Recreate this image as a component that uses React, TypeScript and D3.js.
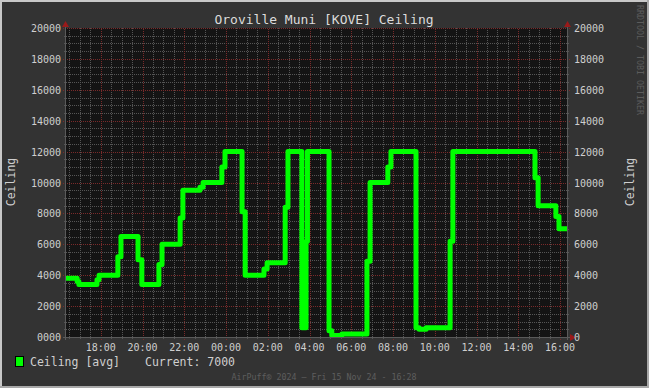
import React from "react";
import * as d3 from "d3";

const titleText = "Oroville Muni [KOVE] Ceiling";
const seriesName = "Ceiling [avg]";
const currentText = "Current: 7000";
const footerText = "AirPuff\u00AE 2024 \u2014 Fri 15 Nov 24 - 16:28";
const sideText = "RRDTOOL / TOBI OETIKER";
const axisLabel = "Ceiling";

// change points (local clock time) and ceiling values (ft)
const times = ["16:20","16:52","16:57","17:49","17:55","18:49","18:58","19:47","19:58","20:47","20:56","21:48","21:56","22:45","22:54","23:48","23:57","00:46","00:55","01:49","01:58","02:50","02:58","03:38","03:50","03:54","04:56","05:04","05:33","06:45","06:54","07:45","07:54","09:06","09:15","09:35","10:44","10:52","14:48","14:57","15:48","15:57"];
const values = [3800,3600,3400,3700,4000,5200,6500,5000,3400,4700,6000,7700,9500,9700,10000,11000,12000,8100,4000,4400,4800,8400,12000,600,6200,12000,400,100,200,4900,10000,11000,12000,600,500,600,6200,12000,10300,8500,7800,7000];

const yTickValues = [0, 2000, 4000, 6000, 8000, 10000, 12000, 14000, 16000, 18000, 20000];
const leftTickLabels = ["0000", "2000", "4000", "6000", "8000", "10000", "12000", "14000", "16000", "18000", "20000"];
const rightTickLabels = ["0", "2000", "4000", "6000", "8000", "10000", "12000", "14000", "16000", "18000", "20000"];

const W = 649, H = 388;
const X0 = 66, X1 = 567, Y0 = 337, Y1 = 28;
const FONT = "'DejaVu Sans Mono', monospace";

const startDate = new Date(2024, 10, 14, 16, 20);
const endDate = new Date(2024, 10, 15, 16, 20);

function toDate(s: string): Date {
  const [h, m] = s.split(":").map(Number);
  const onFirstDay = h * 60 + m >= 16 * 60 + 20;
  return new Date(2024, 10, onFirstDay ? 14 : 15, h, m);
}

export default function App() {
  const x = d3.scaleTime().domain([startDate, endDate]).range([X0, X1]);
  const y = d3.scaleLinear().domain([0, 20000]).range([Y0, Y1]);

  const pts: [Date, number][] = times.map((t, i) => [toDate(t), values[i]]);
  pts.push([endDate, values[values.length - 1]]);
  const line = d3
    .line<[Date, number]>()
    .x((d) => x(d[0]))
    .y((d) => y(d[1]))
    .curve(d3.curveStepAfter);

  const minorX = d3.timeMinute.every(30)!.range(startDate, endDate).filter((d) => d.getMinutes() !== 0 || d.getHours() % 2 !== 0);
  const majorX = d3.timeHour.every(2)!.range(startDate, endDate);
  const minorY = d3.range(0, 20001, 500).filter((v) => v % 2000 !== 0);
  const majorY = yTickValues;

  const minorCol = "#555555";
  const majorCol = "#7a2a2a";
  const textCol = "#cfcfcf";
  const r = (v: number) => Math.round(v) + 0.5;

  return (
    <svg
      width={W}
      height={H}
      style={{ position: "absolute", left: 0, top: 0, display: "block" }}
      fontFamily={FONT}
    >
      <rect x={0} y={0} width={W} height={H} fill="#333333" />
      {/* frame shading */}
      <rect x={0} y={0} width={W} height={2} fill="#c8c8c8" />
      <rect x={0} y={0} width={2} height={H} fill="#c8c8c8" />
      <rect x={0} y={H - 2} width={W} height={2} fill="#a8a8a8" />
      <rect x={W - 2} y={0} width={2} height={H} fill="#a8a8a8" />

      <rect x={X0} y={Y1} width={X1 - X0} height={Y0 - Y1} fill="#141414" />

      {/* minor grid */}
      <g stroke={minorCol} strokeWidth={1} strokeDasharray="1,1" shapeRendering="crispEdges">
        {minorX.map((d, i) => (
          <line key={"mx" + i} x1={r(x(d))} x2={r(x(d))} y1={Y0 + 2} y2={Y1} />
        ))}
        {minorY.map((v, i) => (
          <line key={"my" + i} x1={X0 - 2} x2={X1 + 2} y1={r(y(v))} y2={r(y(v))} />
        ))}
      </g>
      {/* major grid */}
      <g stroke={majorCol} strokeWidth={1} strokeDasharray="1,1" shapeRendering="crispEdges">
        {majorX.map((d, i) => (
          <line key={"Mx" + i} x1={r(x(d))} x2={r(x(d))} y1={Y0 + 3} y2={Y1} />
        ))}
        {majorY.map((v, i) => (
          <line key={"My" + i} x1={X0 - 3} x2={X1 + 3} y1={r(y(v))} y2={r(y(v))} />
        ))}
      </g>

      {/* series */}
      <path
        d={line(pts) || ""}
        fill="none"
        stroke="#00ff00"
        strokeWidth={5}
        strokeLinejoin="round"
        strokeLinecap="butt"
      />

      {/* axes */}
      <g stroke="#5a5a5a" strokeWidth={1} shapeRendering="crispEdges">
        <line x1={X0 - 0.5} x2={X0 - 0.5} y1={Y0 + 3} y2={Y1 - 3} />
        <line x1={X1 + 0.5} x2={X1 + 0.5} y1={Y0 + 3} y2={Y1 - 3} />
        <line x1={X0 - 3} x2={X1 + 4} y1={Y0 + 0.5} y2={Y0 + 0.5} />
      </g>
      <g fill="#9a1a1a">
        <path d={`M${X0 - 4},${Y1 - 1} L${X0 + 3},${Y1 - 1} L${X0 - 0.5},${Y1 - 7} Z`} />
        <path d={`M${X1 - 3},${Y1 - 1} L${X1 + 4},${Y1 - 1} L${X1 + 0.5},${Y1 - 7} Z`} />
        <path d={`M${X1 + 3},${Y0 - 3} L${X1 + 3},${Y0 + 4} L${X1 + 9},${Y0 + 0.5} Z`} />
      </g>

      {/* title */}
      <text x={324} y={24} textAnchor="middle" fontSize={13} fill="#dcdcdc">
        {titleText}
      </text>

      {/* y tick labels */}
      <g fontSize={10} fill={textCol}>
        {yTickValues.map((v, i) => (
          <text key={"l" + i} x={61} y={y(v) + 4} textAnchor="end">
            {leftTickLabels[i]}
          </text>
        ))}
        {yTickValues.map((v, i) => (
          <text key={"r" + i} x={574} y={y(v) + 4} textAnchor="start">
            {rightTickLabels[i]}
          </text>
        ))}
        {majorX.map((d, i) => (
          <text key={"t" + i} x={x(d)} y={351} textAnchor="middle">
            {d3.timeFormat("%H:%M")(d)}
          </text>
        ))}
      </g>

      {/* axis titles */}
      <text
        transform="translate(15,182) rotate(-90)"
        textAnchor="middle"
        fontSize={11.5}
        fill={textCol}
      >
        {axisLabel}
      </text>
      <text
        transform="translate(634,182) rotate(-90)"
        textAnchor="middle"
        fontSize={11.5}
        fill={textCol}
      >
        {axisLabel}
      </text>

      {/* side credit */}
      <text
        transform="translate(637,5) rotate(90)"
        textAnchor="start"
        fontSize={8.3}
        fill="#5c5c5c"
      >
        {sideText}
      </text>

      {/* legend */}
      <rect x={15.5} y={356.5} width={8} height={10} fill="#00ff00" stroke="#000" strokeWidth={1} />
      <text x={30} y={366} fontSize={11.5} fill={textCol}>
        {seriesName}
      </text>
      <text x={145} y={366} fontSize={11.5} fill={textCol}>
        {currentText}
      </text>

      <text x={324} y={380} textAnchor="middle" fontSize={8.3} fill="#5e5e5e">
        {footerText}
      </text>
    </svg>
  );
}
